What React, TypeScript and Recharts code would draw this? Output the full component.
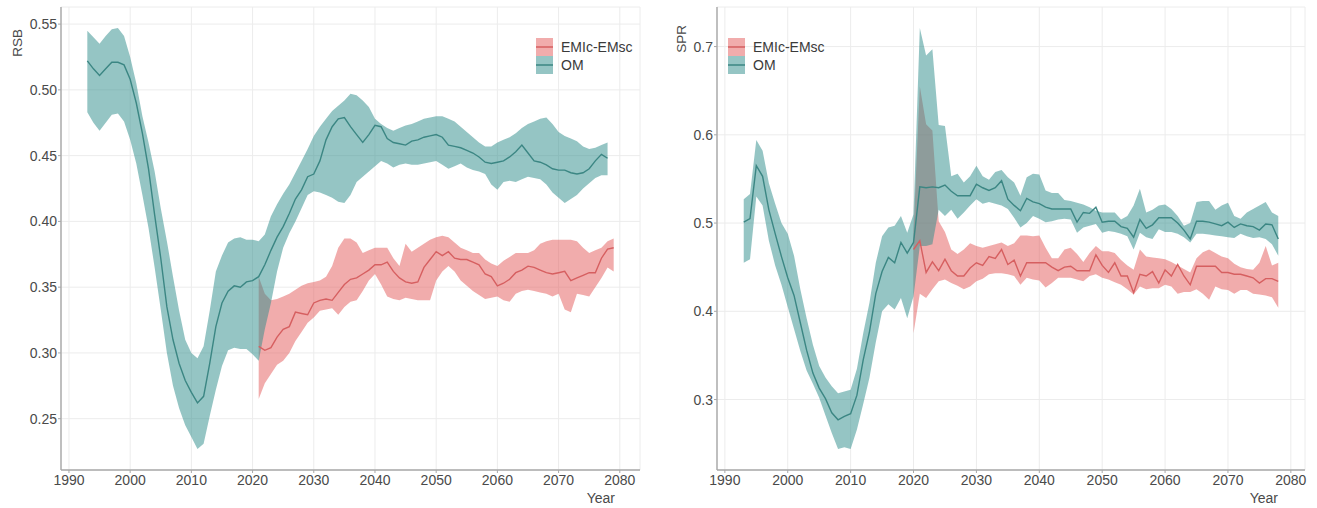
import React from 'react';
import { ComposedChart, Area, Line, XAxis, YAxis, CartesianGrid, Legend } from 'recharts';

const FONT = '"Liberation Sans", Arial, Helvetica, sans-serif';
const TEAL_FILL = '#2b8c89';
const TEAL_LINE = '#3b8683';
const PINK_FILL = '#e35a5a';
const PINK_LINE = '#d65f60';
const BAND_OPACITY = 0.5;
const AXIS_GREY = '#a8a8a8';
const GRID_GREY = '#ececec';
const TEXT_GREY = '#4a4a4a';

const seriesNames = ['EMIc-EMsc', 'OM'];
const yearTicks = [1990, 2000, 2010, 2020, 2030, 2040, 2050, 2060, 2070, 2080];

// ---------- RSB ----------
const rsbTicks = [0.25, 0.3, 0.35, 0.4, 0.45, 0.5, 0.55];

const rsbOmStart = 1993;
const rsbOmMid = [
  0.522, 0.516, 0.511, 0.516, 0.521, 0.521, 0.519, 0.508, 0.490, 0.467,
  0.440, 0.405, 0.372, 0.335, 0.310, 0.292, 0.279, 0.270, 0.262, 0.267,
  0.292, 0.320, 0.338, 0.347, 0.351, 0.350, 0.354, 0.355, 0.358, 0.367,
  0.378, 0.388, 0.396, 0.406, 0.417, 0.424, 0.434, 0.436, 0.446, 0.462,
  0.472, 0.478, 0.479, 0.472, 0.466, 0.460, 0.466, 0.473, 0.472, 0.463,
  0.460, 0.459, 0.458, 0.461, 0.462, 0.464, 0.465, 0.466, 0.464, 0.458,
  0.457, 0.456, 0.454, 0.452, 0.449, 0.445, 0.444, 0.445, 0.446, 0.449,
  0.453, 0.458, 0.452, 0.446, 0.445, 0.443, 0.440, 0.439, 0.439, 0.437,
  0.436, 0.437, 0.440, 0.446, 0.451, 0.448,
];
const rsbOmLo = [
  0.483, 0.475, 0.469, 0.475, 0.481, 0.482, 0.476, 0.462, 0.444, 0.420,
  0.395, 0.365, 0.333, 0.300, 0.275, 0.258, 0.245, 0.236, 0.227, 0.231,
  0.252, 0.272, 0.290, 0.302, 0.304, 0.303, 0.303, 0.299, 0.294, 0.318,
  0.338, 0.362, 0.380, 0.391, 0.400, 0.410, 0.420, 0.423, 0.422, 0.420,
  0.418, 0.415, 0.414, 0.420, 0.430, 0.434, 0.438, 0.442, 0.446, 0.444,
  0.441, 0.443, 0.444, 0.443, 0.443, 0.444, 0.445, 0.446, 0.443, 0.440,
  0.442, 0.444, 0.441, 0.439, 0.438, 0.436, 0.428, 0.424, 0.430, 0.431,
  0.430, 0.432, 0.434, 0.433, 0.432, 0.428, 0.422, 0.418, 0.414, 0.417,
  0.420, 0.425, 0.429, 0.433, 0.435, 0.435,
];
const rsbOmHi = [
  0.545, 0.540, 0.535, 0.541, 0.546, 0.547, 0.541, 0.525, 0.505, 0.480,
  0.460, 0.438, 0.410, 0.385, 0.358, 0.332, 0.310, 0.300, 0.296, 0.305,
  0.332, 0.362, 0.374, 0.384, 0.387, 0.388, 0.386, 0.386, 0.385, 0.390,
  0.404, 0.413, 0.421, 0.428, 0.437, 0.446, 0.455, 0.465, 0.472, 0.478,
  0.484, 0.488, 0.492, 0.497, 0.496, 0.492, 0.487, 0.478, 0.474, 0.471,
  0.469, 0.471, 0.473, 0.474, 0.476, 0.478, 0.479, 0.480, 0.480, 0.478,
  0.476, 0.472, 0.468, 0.464, 0.460, 0.457, 0.457, 0.460, 0.462, 0.464,
  0.467, 0.471, 0.474, 0.476, 0.478, 0.479, 0.474, 0.468, 0.465, 0.463,
  0.461, 0.457, 0.455, 0.456, 0.458, 0.460,
];

const rsbEmStart = 2021;
const rsbEmMid = [
  0.305, 0.302, 0.304, 0.312, 0.318, 0.320, 0.331, 0.330, 0.329, 0.338,
  0.340, 0.341, 0.340, 0.346, 0.352, 0.356, 0.357, 0.360, 0.363, 0.367,
  0.367, 0.369, 0.362, 0.357, 0.354, 0.353, 0.354, 0.365, 0.371, 0.377,
  0.374, 0.377, 0.372, 0.371, 0.371, 0.369, 0.367, 0.360, 0.358, 0.351,
  0.353, 0.356, 0.361, 0.363, 0.366, 0.365, 0.363, 0.361, 0.360, 0.361,
  0.362, 0.355, 0.357, 0.359, 0.361, 0.361, 0.372, 0.379, 0.380,
];
const rsbEmLo = [
  0.265, 0.277, 0.284, 0.291, 0.294, 0.300, 0.309, 0.316, 0.323, 0.327,
  0.332, 0.333, 0.334, 0.329, 0.335, 0.339, 0.340, 0.347, 0.355, 0.360,
  0.352, 0.343, 0.341, 0.340, 0.342, 0.341, 0.340, 0.340, 0.340, 0.355,
  0.362, 0.366, 0.362, 0.355, 0.351, 0.347, 0.344, 0.341, 0.342, 0.343,
  0.340, 0.339, 0.345, 0.347, 0.348, 0.347, 0.346, 0.345, 0.343, 0.345,
  0.333, 0.331, 0.345, 0.344, 0.343, 0.350, 0.357, 0.365, 0.362,
];
const rsbEmHi = [
  0.358, 0.345, 0.340, 0.341, 0.343, 0.345, 0.348, 0.351, 0.353, 0.354,
  0.355, 0.358, 0.366, 0.380, 0.387, 0.387, 0.384, 0.376, 0.378, 0.380,
  0.380, 0.380, 0.372, 0.366, 0.383, 0.377, 0.380, 0.383, 0.386, 0.388,
  0.389, 0.388, 0.384, 0.380, 0.378, 0.376, 0.376, 0.371, 0.368, 0.366,
  0.370, 0.373, 0.376, 0.376, 0.376, 0.378, 0.383, 0.385, 0.386, 0.386,
  0.386, 0.386, 0.385, 0.380, 0.376, 0.378, 0.380, 0.385, 0.387,
];

// ---------- SPR ----------
const sprTicks = [0.3, 0.4, 0.5, 0.6, 0.7];

const sprOmStart = 1993;
const sprOmMid = [
  0.501, 0.505, 0.565, 0.553, 0.515, 0.488, 0.462, 0.438, 0.418, 0.387,
  0.356, 0.330, 0.313, 0.301, 0.285, 0.277, 0.281, 0.284, 0.305, 0.345,
  0.377, 0.420, 0.445, 0.461, 0.455, 0.478, 0.466, 0.478, 0.541, 0.540,
  0.541, 0.540, 0.543, 0.536, 0.531, 0.531, 0.531, 0.544, 0.540, 0.537,
  0.540, 0.548, 0.527, 0.520, 0.514, 0.528, 0.524, 0.522, 0.518, 0.516,
  0.516, 0.516, 0.516, 0.501, 0.512, 0.511, 0.518, 0.501, 0.502, 0.502,
  0.496, 0.494, 0.484, 0.504, 0.494, 0.498, 0.506, 0.506, 0.506, 0.500,
  0.492, 0.482, 0.502, 0.502, 0.501, 0.499, 0.497, 0.501, 0.495, 0.499,
  0.497, 0.496, 0.492, 0.499, 0.498, 0.482,
];
const sprOmLo = [
  0.455, 0.459, 0.530, 0.520, 0.480, 0.452, 0.430, 0.405, 0.380, 0.355,
  0.333, 0.318, 0.302, 0.282, 0.262, 0.244, 0.246, 0.244, 0.266, 0.295,
  0.325, 0.365, 0.400, 0.408, 0.402, 0.415, 0.392, 0.417, 0.474, 0.474,
  0.476, 0.515, 0.508, 0.515, 0.505, 0.512, 0.520, 0.527, 0.522, 0.524,
  0.522, 0.520, 0.516, 0.506, 0.495, 0.500, 0.508, 0.505, 0.501, 0.502,
  0.504, 0.505, 0.504, 0.489, 0.495, 0.497, 0.499, 0.489, 0.491, 0.490,
  0.488, 0.485, 0.470, 0.489, 0.484, 0.482, 0.493, 0.490, 0.490, 0.488,
  0.484, 0.478, 0.488, 0.488, 0.487, 0.486, 0.485, 0.484, 0.483, 0.488,
  0.485, 0.483, 0.484, 0.482, 0.476, 0.463,
];
const sprOmHi = [
  0.527, 0.533, 0.594, 0.582, 0.545, 0.522, 0.500, 0.488, 0.463, 0.425,
  0.392, 0.362, 0.338, 0.325, 0.315, 0.307, 0.309, 0.311, 0.335, 0.375,
  0.410, 0.455, 0.485, 0.495, 0.497, 0.508, 0.489, 0.510, 0.721, 0.690,
  0.697, 0.611, 0.610, 0.553, 0.556, 0.546, 0.553, 0.565, 0.553, 0.549,
  0.558, 0.560, 0.552, 0.546, 0.531, 0.552, 0.556, 0.555, 0.537, 0.534,
  0.534, 0.526, 0.525, 0.523, 0.521, 0.518, 0.514, 0.512, 0.512, 0.512,
  0.504, 0.508, 0.520, 0.539, 0.512, 0.515, 0.520, 0.521, 0.516, 0.508,
  0.497, 0.500, 0.524, 0.525, 0.525, 0.515, 0.520, 0.523, 0.508, 0.505,
  0.512, 0.516, 0.520, 0.524, 0.512, 0.508,
];

const sprEmStart = 2020;
const sprEmMid = [
  0.470, 0.480, 0.444, 0.456, 0.446, 0.459, 0.446, 0.440, 0.440, 0.449,
  0.455, 0.452, 0.462, 0.460, 0.470, 0.453, 0.458, 0.440, 0.455, 0.455,
  0.455, 0.455, 0.450, 0.446, 0.450, 0.451, 0.446, 0.446, 0.446, 0.464,
  0.452, 0.444, 0.455, 0.440, 0.440, 0.421, 0.442, 0.440, 0.445, 0.432,
  0.447, 0.440, 0.453, 0.440, 0.430, 0.451, 0.451, 0.451, 0.451, 0.444,
  0.444, 0.442, 0.442, 0.440, 0.438, 0.432, 0.437, 0.437, 0.434,
];
const sprEmLo = [
  0.375, 0.420, 0.415, 0.425, 0.434, 0.436, 0.432, 0.429, 0.425, 0.428,
  0.434, 0.437, 0.442, 0.443, 0.443, 0.442, 0.440, 0.430, 0.438, 0.436,
  0.435, 0.427, 0.432, 0.438, 0.438, 0.438, 0.436, 0.434, 0.440, 0.442,
  0.438, 0.436, 0.433, 0.430, 0.425, 0.419, 0.428, 0.425, 0.426, 0.426,
  0.430, 0.428, 0.420, 0.422, 0.422, 0.425, 0.420, 0.413, 0.428, 0.425,
  0.424, 0.420, 0.424, 0.424, 0.420, 0.419, 0.418, 0.416, 0.404,
];
const sprEmHi = [
  0.490, 0.655, 0.612, 0.605, 0.502, 0.490, 0.470, 0.465, 0.470, 0.477,
  0.474, 0.472, 0.474, 0.476, 0.478, 0.474, 0.477, 0.486, 0.486, 0.485,
  0.486, 0.472, 0.460, 0.460, 0.470, 0.472, 0.465, 0.456, 0.466, 0.474,
  0.468, 0.468, 0.466, 0.458, 0.452, 0.447, 0.470, 0.462, 0.461, 0.460,
  0.459, 0.456, 0.452, 0.448, 0.444, 0.460, 0.467, 0.470, 0.466, 0.462,
  0.460, 0.454, 0.450, 0.448, 0.447, 0.455, 0.474, 0.452, 0.455,
];

type Row = {
  year: number;
  om?: number;
  omBand?: [number, number];
  em?: number;
  emBand?: [number, number];
};

type SeriesSet = {
  omStart: number;
  omMid: number[];
  omLo: number[];
  omHi: number[];
  emStart: number;
  emMid: number[];
  emLo: number[];
  emHi: number[];
};

function buildRows(s: SeriesSet): Row[] {
  const first = Math.min(s.omStart, s.emStart);
  const last = Math.max(s.omStart + s.omMid.length - 1, s.emStart + s.emMid.length - 1);
  const rows: Row[] = [];
  for (let year = first; year <= last; year++) {
    const row: Row = { year };
    const i = year - s.omStart;
    if (i >= 0 && i < s.omMid.length) {
      row.om = s.omMid[i];
      row.omBand = [s.omLo[i], s.omHi[i]];
    }
    const j = year - s.emStart;
    if (j >= 0 && j < s.emMid.length) {
      row.em = s.emMid[j];
      row.emBand = [s.emLo[j], s.emHi[j]];
    }
    rows.push(row);
  }
  return rows;
}

// ggplot-style 5% expansion of the data range
function expanded(values: number[]): [number, number] {
  const lo = Math.min(...values);
  const hi = Math.max(...values);
  const pad = (hi - lo) * 0.05;
  return [lo - pad, hi + pad];
}

function xDomain(rows: Row[]): [number, number] {
  return expanded(rows.map((r) => r.year));
}

function yDomain(s: SeriesSet): [number, number] {
  return expanded([...s.omLo, ...s.omHi, ...s.emLo, ...s.emHi]);
}

const rsbSet: SeriesSet = {
  omStart: rsbOmStart, omMid: rsbOmMid, omLo: rsbOmLo, omHi: rsbOmHi,
  emStart: rsbEmStart, emMid: rsbEmMid, emLo: rsbEmLo, emHi: rsbEmHi,
};
const sprSet: SeriesSet = {
  omStart: sprOmStart, omMid: sprOmMid, omLo: sprOmLo, omHi: sprOmHi,
  emStart: sprEmStart, emMid: sprEmMid, emLo: sprEmLo, emHi: sprEmHi,
};

function KeyLegend() {
  const items = [
    { name: seriesNames[0], fill: PINK_FILL, line: PINK_LINE },
    { name: seriesNames[1], fill: TEAL_FILL, line: TEAL_LINE },
  ];
  return (
    <div style={{ fontFamily: FONT, fontSize: 14, color: '#3a3a3a' }}>
      {items.map((it) => (
        <div key={it.name} style={{ display: 'flex', alignItems: 'center', height: 18 }}>
          <svg width={17} height={18} style={{ display: 'block' }}>
            <rect x={0} y={0} width={17} height={18} fill={it.fill} fillOpacity={BAND_OPACITY} />
            <line x1={0} x2={17} y1={9} y2={9} stroke={it.line} strokeWidth={1.5} />
          </svg>
          <span style={{ marginLeft: 8, lineHeight: '18px', whiteSpace: 'nowrap' }}>{it.name}</span>
        </div>
      ))}
    </div>
  );
}

// Axis titles sit at the far ends of the axes (right end of x, top end of y)
function XTitle({ atX, atY, text }: { atX: number; atY: number; text: string }) {
  return (
    <text x={atX} y={atY} textAnchor="end" fontFamily={FONT} fontSize={14} fill={TEXT_GREY}>
      {text}
    </text>
  );
}

function YTitle({ atX, atY, text }: { atX: number; atY: number; text: string }) {
  return (
    <text
      x={atX}
      y={atY}
      transform={`rotate(-90, ${atX}, ${atY})`}
      textAnchor="end"
      fontFamily={FONT}
      fontSize={13.5}
      fill={TEXT_GREY}
    >
      {text}
    </text>
  );
}

type PanelProps = {
  set: SeriesSet;
  title: string;
  ticks: number[];
  digits: number;
  width: number;
  yAxisWidth: number;
  marginRight: number;
  legendLeft: number;
  yTitleX: number;
  yTitleY: number;
  xTitleX: number;
};

const HEIGHT = 508;
const TOP = 7;
const X_AXIS_HEIGHT = 38;

function Panel(p: PanelProps) {
  const rows = buildRows(p.set);
  const tickStyle = { fill: TEXT_GREY, fontSize: 14, fontFamily: FONT };
  return (
    <ComposedChart
      width={p.width}
      height={HEIGHT}
      data={rows}
      margin={{ top: TOP, right: p.marginRight, bottom: 0, left: 0 }}
    >
      <CartesianGrid stroke={GRID_GREY} strokeWidth={1} />
      <XAxis
        dataKey="year"
        type="number"
        domain={xDomain(rows)}
        ticks={yearTicks}
        interval={0}
        allowDataOverflow
        height={X_AXIS_HEIGHT}
        tick={tickStyle}
        tickSize={3}
        tickMargin={2}
        tickLine={{ stroke: AXIS_GREY }}
        axisLine={{ stroke: AXIS_GREY, strokeWidth: 1.4 }}
        label={<XTitle atX={p.xTitleX} atY={503} text="Year" />}
      />
      <YAxis
        type="number"
        domain={yDomain(p.set)}
        ticks={p.ticks}
        interval={0}
        allowDataOverflow
        width={p.yAxisWidth}
        tick={tickStyle}
        tickSize={3}
        tickMargin={1}
        tickFormatter={(v: number) => v.toFixed(p.digits)}
        tickLine={{ stroke: AXIS_GREY }}
        axisLine={{ stroke: AXIS_GREY, strokeWidth: 1.4 }}
        label={<YTitle atX={p.yTitleX} atY={p.yTitleY} text={p.title} />}
      />
      <Area
        type="linear"
        dataKey="emBand"
        name={seriesNames[0]}
        stroke="none"
        fill={PINK_FILL}
        fillOpacity={BAND_OPACITY}
        isAnimationActive={false}
        activeDot={false}
      />
      <Area
        type="linear"
        dataKey="omBand"
        name={seriesNames[1]}
        stroke="none"
        fill={TEAL_FILL}
        fillOpacity={BAND_OPACITY}
        isAnimationActive={false}
        activeDot={false}
      />
      <Line
        type="linear"
        dataKey="em"
        stroke={PINK_LINE}
        strokeWidth={1.4}
        dot={false}
        activeDot={false}
        isAnimationActive={false}
      />
      <Line
        type="linear"
        dataKey="om"
        stroke={TEAL_LINE}
        strokeWidth={1.4}
        dot={false}
        activeDot={false}
        isAnimationActive={false}
      />
      <Legend
        layout="horizontal"
        verticalAlign="middle"
        align="center"
        content={<KeyLegend />}
        wrapperStyle={{ left: p.legendLeft, top: 38, width: 'auto', height: 'auto' }}
      />
    </ComposedChart>
  );
}

export default function App() {
  return (
    <div
      style={{
        position: 'absolute',
        left: 0,
        top: 0,
        width: 1317,
        height: HEIGHT,
        background: '#ffffff',
        overflow: 'hidden',
      }}
    >
      <div style={{ position: 'absolute', left: 0, top: 0 }}>
        <Panel
          set={rsbSet}
          title="RSB"
          ticks={rsbTicks}
          digits={2}
          width={660}
          yAxisWidth={61}
          marginRight={20}
          legendLeft={536}
          yTitleX={22}
          yTitleY={29}
          xTitleX={615}
        />
      </div>
      <div style={{ position: 'absolute', left: 660, top: 0 }}>
        <Panel
          set={sprSet}
          title="SPR"
          ticks={sprTicks}
          digits={1}
          width={657}
          yAxisWidth={57}
          marginRight={12}
          legendLeft={68}
          yTitleX={26}
          yTitleY={25}
          xTitleX={618}
        />
      </div>
    </div>
  );
}
